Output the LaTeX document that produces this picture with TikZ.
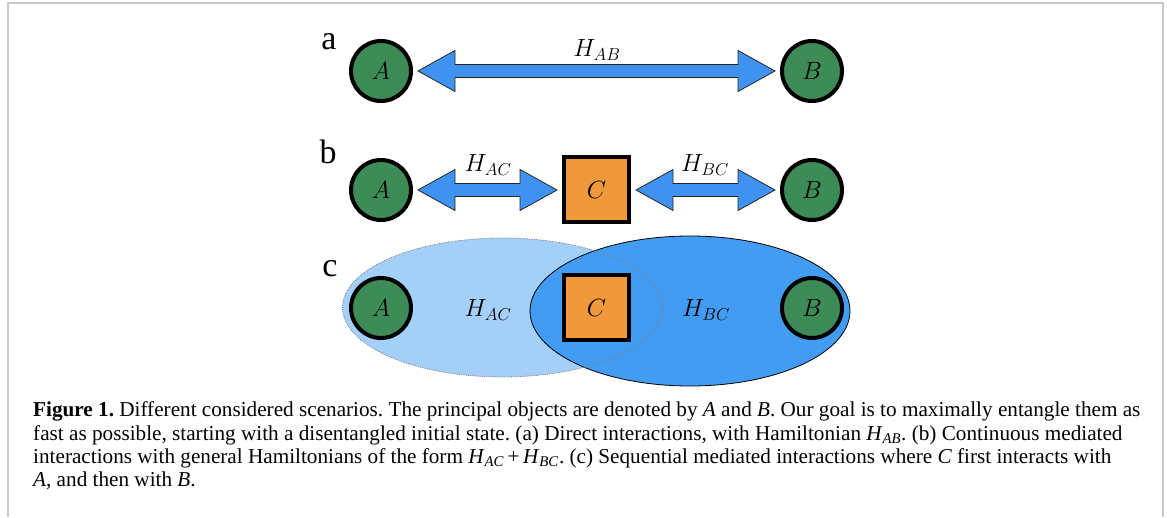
\documentclass[tikz,border=0pt]{standalone}
\usepackage{amsmath}
\usepackage{fontspec}
\usepackage{tikz}
\usetikzlibrary{calc}

\newfontfamily\capfont{Liberation Serif}

\definecolor{qgreen}{RGB}{61,139,87}
\definecolor{qorange}{RGB}{240,153,58}
\definecolor{qblue}{RGB}{64,146,240}
\definecolor{qlight}{RGB}{163,207,248}
\definecolor{qdark}{RGB}{66,156,242}
\definecolor{framegray}{RGB}{200,200,200}

% broad two-headed arrow between two nodes of one row
\newcommand{\hamarrow}[2]{%
  \draw[fat] ([xshift=5pt]#1.east) -- ++(37,20.5) -- ++(0,-14)
    -- ([xshift=-42pt,yshift=6.5pt]#2.west) -- ++(0,14)
    -- ([xshift=-5pt]#2.west) -- ++(-37,-20.5) -- ++(0,14)
    -- ([xshift=42pt,yshift=-6.5pt]#1.east) -- ++(0,-14) -- cycle;}
\newcommand{\hsub}[1]{\textit{H}\textsubscript{\textit{#1}}}

\begin{document}
\frenchspacing
\begin{tikzpicture}[x=1pt,y=1pt,
  obj/.style={circle,draw=black,line width=4pt,fill=qgreen,minimum size=60pt,inner sep=0pt,font=\fontsize{29}{34}\selectfont},
  med/.style={rectangle,draw=black,line width=4pt,fill=qorange,minimum size=65pt,inner sep=0pt,font=\fontsize{29}{34}\selectfont},
  ham/.style={font=\fontsize{24}{28}\selectfont,inner sep=0pt,anchor=base},
  tag/.style={font=\capfont\fontsize{34}{40}\selectfont,inner sep=0pt,anchor=base},
  fat/.style={draw=black!85,line width=0.8pt,fill=qblue},
  capline/.style={font=\capfont\fontsize{21.2}{23}\selectfont,inner sep=0pt,anchor=base west}]
\useasboundingbox (0,0) rectangle (1167,517);
\draw[framegray,line width=2pt] (7.5,0) -- (7.5,513.5) -- (1163,513.5) -- (1163,0);

% (a) direct interaction
\node[tag] (la) at (329,467) {a};
\node[obj] (a1) at (381,446) {$A$};
\node[obj] (b1) at (812,446) {$B$};
\hamarrow{a1}{b1}
\node[ham] (hab) at (597,460) {$H_{AB}$};

% (b) continuous mediation
\node[tag] (lb) at (328,353) {b};
\node[obj] (a2) at (381,327) {$A$};
\node[med] (c2) at (596.5,327) {$C$};
\node[obj] (b2) at (812,327) {$B$};
\hamarrow{a2}{c2}
\hamarrow{c2}{b2}
\node[ham] (hac2) at (488,345) {$H_{AC}$};
\node[ham] (hbc2) at (705,345) {$H_{BC}$};

% (c) sequential mediation
\node[tag] (lc) at (330,240) {c};
\fill[qlight] (502.5,209.5) ellipse [x radius=160,y radius=69.5];
\draw[black,line width=0.8pt,fill=qdark] (690,206) ellipse [x radius=160,y radius=75];
\draw[gray,densely dotted,line width=0.8pt] (502.5,209.5) ellipse [x radius=160,y radius=69.5];
\node[obj] (a3) at (381,209) {$A$};
\node[med] (c3) at (596.5,209) {$C$};
\node[obj] (b3) at (812,209) {$B$};
\node[ham] (hac3) at (488,200) {$H_{AC}$};
\node[ham] (hbc3) at (706,200) {$H_{BC}$};

% caption
\node[capline] (cap1) at (33,100) {\textbf{Figure 1.} Different considered scenarios. The principal objects are denoted by \textit{A} and \textit{B}. Our goal is to maximally entangle them as};
\node[capline] (cap2) at (33,77) {fast as possible, starting with a disentangled initial state. (a) Direct interactions, with Hamiltonian \hsub{AB}. (b) Continuous mediated};
\node[capline] (cap3) at (33,54) {interactions with general Hamiltonians of the form \hsub{AC}\,+\,\hsub{BC}. (c) Sequential mediated interactions where \textit{C} first interacts with};
\node[capline] (cap4) at (33,31) {\textit{A}, and then with \textit{B}.};
\end{tikzpicture}
\end{document}
